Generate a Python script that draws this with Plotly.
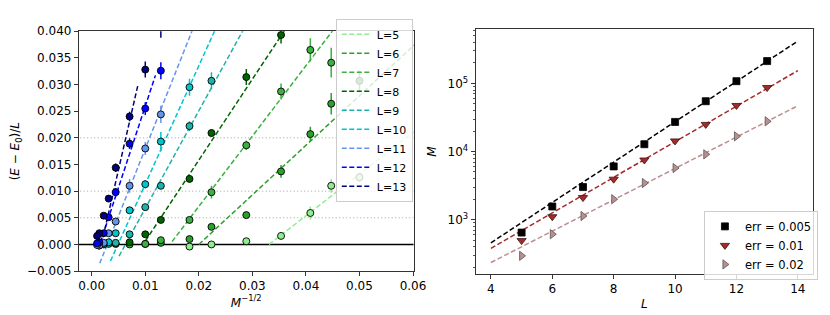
import numpy as np
import plotly.graph_objects as go

# ---------------- left panel data ----------------
L_list = [5, 6, 7, 8, 9, 10, 11, 12, 13]
L_colors = ["#90ee90", "#2ca02c", "#3cb043", "#006400", "#20b2aa",
            "#00c5cd", "#6495ed", "#0000ff", "#000080"]

M_L5 = [400, 500, 600, 800, 1200, 2000, 3000]
y_L5 = [0.0126, 0.0110, 0.0059, 0.0016, 0.0006, 0.0000, -0.0004]
e_L5 = [0.0010, 0.0013, 0.0012, 0.0006, 0.0004, 0.0003, 0.0003]

M_L6 = [400, 500, 600, 800, 1200, 2000, 3000, 6000, 10000]
y_L6 = [0.0307, 0.0264, 0.0207, 0.0137, 0.0055, 0.0033, 0.0010, 0.0003, 0.0001]
e_L6 = [0.0020, 0.0020, 0.0014, 0.0012, 0.0005, 0.0005, 0.0004, 0.0003, 0.0003]

M_L7 = [500, 600, 800, 1200, 2000, 3000, 6000, 10000, 20000]
y_L7 = [0.0341, 0.0365, 0.0287, 0.0186, 0.0098, 0.0046, 0.0008, 0.0001, 0.0000]
e_L7 = [0.0028, 0.0022, 0.0015, 0.0009, 0.0012, 0.0006, 0.0004, 0.0003, 0.0003]

M_L8 = [800, 1200, 2000, 3000, 6000, 10000, 20000, 50000]
y_L8 = [0.0393, 0.0314, 0.0209, 0.0123, 0.0046, 0.0019, 0.0004, 0.0001]
e_L8 = [0.0016, 0.0015, 0.0007, 0.0006, 0.0004, 0.0003, 0.0003, 0.0003]

M_L9 = [2000, 3000, 6000, 10000, 20000, 50000, 100000, 200000]
y_L9 = [0.0307, 0.0222, 0.0110, 0.0070, 0.0019, 0.0003, 0.0001, 0.0000]
e_L9 = [0.0016, 0.0009, 0.0006, 0.0005, 0.0004, 0.0003, 0.0003, 0.0003]

M_L10 = [3000, 6000, 10000, 20000, 50000, 100000, 200000, 500000]
y_L10 = [0.0295, 0.0193, 0.0113, 0.0064, 0.0021, 0.0004, 0.0001, -0.0002]
e_L10 = [0.0016, 0.0018, 0.0008, 0.0006, 0.0004, 0.0003, 0.0003, 0.0003]

M_L11 = [6000, 10000, 20000, 50000, 100000, 200000, 500000, 1000000]
y_L11 = [0.0244, 0.0180, 0.0110, 0.0043, 0.0021, 0.0003, -0.0002, -0.0001]
e_L11 = [0.0016, 0.0012, 0.0013, 0.0006, 0.0004, 0.0003, 0.0003, 0.0003]

M_L12 = [6000, 10000, 20000, 50000, 100000, 200000, 500000, 1000000]
y_L12 = [0.0326, 0.0255, 0.0189, 0.0098, 0.0051, 0.0021, 0.0004, 0.0002]
e_L12 = [0.0016, 0.0012, 0.0010, 0.0008, 0.0005, 0.0004, 0.0003, 0.0003]

M_L13 = [6000, 10000, 20000, 50000, 100000, 200000, 500000, 1000000]
y_L13 = [0.0420, 0.0328, 0.0240, 0.0144, 0.0086, 0.0054, 0.0021, 0.0016]
e_L13 = [0.0032, 0.0015, 0.0009, 0.0008, 0.0006, 0.0005, 0.0004, 0.0003]

M_sets = [M_L5, M_L6, M_L7, M_L8, M_L9, M_L10, M_L11, M_L12, M_L13]
y_sets = [y_L5, y_L6, y_L7, y_L8, y_L9, y_L10, y_L11, y_L12, y_L13]
e_sets = [e_L5, e_L6, e_L7, e_L8, e_L9, e_L10, e_L11, e_L12, e_L13]

# linear fits  y = slope * (x - x_zero), drawn between fit_x_start and fit_x_end
fit_slope = [0.78, 0.93, 1.32, 1.52, 1.83, 2.22, 2.53, 3.05, 4.38]
fit_x_zero = [0.0331, 0.0200, 0.0146, 0.0096, 0.0063, 0.0049, 0.0029, 0.0015, 0.0018]
fit_x_start = [0.0331, 0.0200, 0.0150, 0.0100, 0.0051, 0.0035, 0.0015, 0.0012, 0.0018]
fit_x_end = [0.062, 0.062, 0.062, 0.062, 0.062, 0.062, 0.062, 0.0119, 0.0086]

guide_levels = [0.005, 0.010, 0.020]

left_xticks = [0.00, 0.01, 0.02, 0.03, 0.04, 0.05, 0.06]
left_yticks = [-0.005, 0.000, 0.005, 0.010, 0.015, 0.020, 0.025, 0.030, 0.035, 0.040]
left_yticktext = ["\u22120.005", "0.000", "0.005", "0.010", "0.015", "0.020",
                  "0.025", "0.030", "0.035", "0.040"]

# ---------------- right panel data ----------------
L_sizes = [5, 6, 7, 8, 9, 10, 11, 12, 13]
M_err005 = [643, 1556, 3000, 6040, 12800, 27200, 54800, 108000, 213000]
M_err01 = [491, 1100, 2100, 3920, 7500, 14300, 25000, 47500, 87000]
M_err02 = [293, 610, 1127, 1990, 3440, 5710, 9080, 16700, 27800]
err_labels = ["err = 0.005", "err = 0.01", "err = 0.02"]
# log10(M) = a + b*L fits
fit_a = [1.473, 1.530, 1.448]
fit_b = [0.2964, 0.2613, 0.2303]
fit_L_range = [4, 14]
right_xticks = [4, 6, 8, 10, 12, 14]
right_yticks = [1e3, 1e4, 1e5]
right_yticktext = ["10<sup>3</sup>", "10<sup>4</sup>", "10<sup>5</sup>"]
right_minor_ticks = [d * 10 ** p for p in (2, 3, 4, 5) for d in range(2, 10)]

FONT = "DejaVu Sans"
fig = go.Figure()

# guide lines
for g in guide_levels:
    fig.add_trace(go.Scatter(x=[-0.01, 0.07], y=[g, g], mode="lines",
                             line=dict(color="#a0a0a0", width=1, dash="1px,2.5px"),
                             showlegend=False, hoverinfo="skip", xaxis="x", yaxis="y"))
fig.add_trace(go.Scatter(x=[-0.01, 0.07], y=[0, 0], mode="lines",
                         line=dict(color="black", width=1.5),
                         showlegend=False, hoverinfo="skip", xaxis="x", yaxis="y"))

# fit lines (legend entries)
for i, L in enumerate(L_list):
    xs = np.array([fit_x_start[i], fit_x_end[i]])
    ys = fit_slope[i] * (xs - fit_x_zero[i])
    fig.add_trace(go.Scatter(x=xs, y=ys, mode="lines", name=f"L={L}",
                             line=dict(color=L_colors[i], width=1.5, dash="5px,2.5px"),
                             xaxis="x", yaxis="y", legend="legend"))

# data points
for i, L in enumerate(L_list):
    xm = np.array(M_sets[i], dtype=float) ** -0.5
    fig.add_trace(go.Scatter(x=xm, y=y_sets[i], mode="markers", showlegend=False,
                             marker=dict(size=7, color=L_colors[i],
                                         line=dict(color="black", width=0.9)),
                             error_y=dict(type="data", array=e_sets[i], color=L_colors[i],
                                          thickness=1.5, width=0),
                             xaxis="x", yaxis="y"))

# right panel
r_colors = ["black", "#a52a2a", "#bc8f8f"]
r_edges = ["black", "#3a1010", "#555555"]
r_symbols = ["square", "triangle-down", "triangle-right"]
r_sizes = [7, 8, 8]
r_data = [M_err005, M_err01, M_err02]
for k in range(3):
    Lf = np.array(fit_L_range, dtype=float)
    Mf = 10 ** (fit_a[k] + fit_b[k] * Lf)
    fig.add_trace(go.Scatter(x=Lf, y=Mf, mode="lines", showlegend=False,
                             line=dict(color=r_colors[k], width=1.5, dash="5px,2.5px"),
                             xaxis="x2", yaxis="y2"))
for k in range(3):
    fig.add_trace(go.Scatter(x=L_sizes, y=r_data[k], mode="markers", name=err_labels[k],
                             marker=dict(symbol=r_symbols[k], size=r_sizes[k], color=r_colors[k],
                                         line=dict(color=r_edges[k], width=0.8)),
                             xaxis="x2", yaxis="y2", legend="legend2"))

axis_common = dict(showline=True, linecolor="#333333", linewidth=1, mirror=True,
                   ticks="outside", ticklen=4, tickwidth=0.8, tickcolor="#333333",
                   showgrid=False, zeroline=False,
                   tickfont=dict(family=FONT, size=12, color="black"))

fig.update_layout(
    width=830, height=315, margin=dict(l=0, r=0, t=0, b=0),
    paper_bgcolor="white", plot_bgcolor="white",
    font=dict(family=FONT, size=12, color="black"),
    xaxis=dict(domain=[72 / 830, 412 / 830], range=[-0.0024, 0.0601],
               tickvals=left_xticks, tickformat=".2f", anchor="y",
               title=dict(text="<i>M</i><sup>\u22121/2</sup>", standoff=4,
                          font=dict(family=FONT, size=12)), **axis_common),
    yaxis=dict(domain=[(315 - 268) / 315, (315 - 17) / 315], range=[-0.005, 0.040],
               tickvals=left_yticks, ticktext=left_yticktext, anchor="x",
               title=dict(text="(<i>E</i> \u2212 <i>E</i><sub>0</sub>)/<i>L</i>", standoff=6,
                          font=dict(family=FONT, size=12)), **axis_common),
    xaxis2=dict(domain=[475 / 830, 818 / 830], range=[3.5, 14.5], tickvals=right_xticks,
                anchor="y2",
                title=dict(text="<i>L</i>", standoff=4, font=dict(family=FONT, size=12)),
                **axis_common),
    yaxis2=dict(domain=[(315 - 271) / 315, (315 - 15) / 315], type="log",
                range=[2.2006, 5.795], tickvals=right_yticks, ticktext=right_yticktext,
                anchor="x2",
                minor=dict(ticks="outside", ticklen=2, tickcolor="#555555",
                           tickvals=right_minor_ticks, showgrid=False),
                title=dict(text="<i>M</i>", standoff=8, font=dict(family=FONT, size=12)),
                **axis_common),
    legend=dict(x=333 / 830, y=(315 - 4) / 315, xanchor="left", yanchor="top",
                bgcolor="rgba(255,255,255,0.8)", bordercolor="#cccccc", borderwidth=1,
                font=dict(family=FONT, size=11), tracegroupgap=0),
    legend2=dict(x=707 / 830, y=(315 - 205) / 315, xanchor="left", yanchor="top",
                 bgcolor="rgba(255,255,255,0.8)", bordercolor="#cccccc", borderwidth=1,
                 font=dict(family=FONT, size=11.5)),
)

fig.write_html("out.html")
